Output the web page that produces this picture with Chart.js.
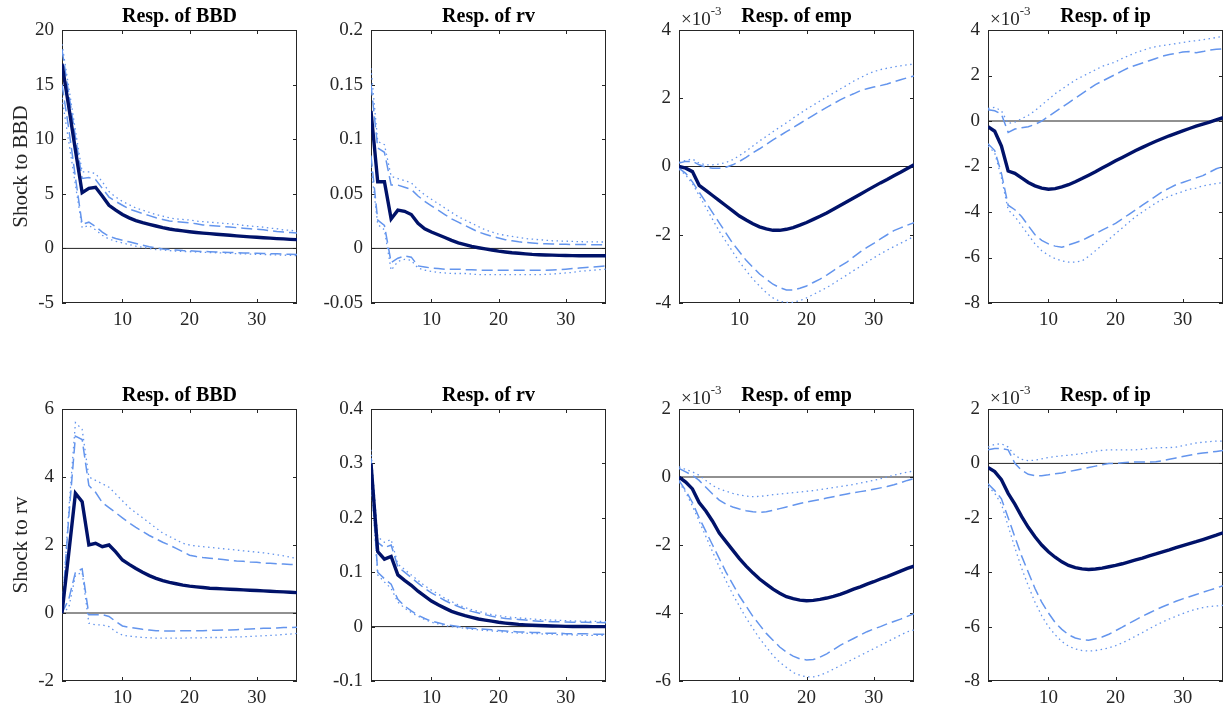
<!DOCTYPE html>
<html><head><meta charset="utf-8">
<script src="https://cdn.jsdelivr.net/npm/chart.js@4"></script>
<style>
html,body{margin:0;padding:0;background:#fff;width:1225px;height:715px;overflow:hidden;position:relative;}
canvas{position:absolute;}
</style></head><body>
<script>
// ---------------- DATA ----------------
const horizon = [1,2,3,4,5,6,7,8,9,10,11,12,13,14,15,16,17,18,19,20,21,22,23,24,25,26,27,28,29,30,31,32,33,34,35,36];
const xTickLabels = [10,20,30];
const zeroLevel = 0;
const rowLabels = ['Shock to BBD','Shock to rv'];
const colTitles = ['Resp. of BBD','Resp. of rv','Resp. of emp','Resp. of ip'];
const expLabel = '-3'; // ×10^-3 scale shown on emp / ip panels

// y tick values per panel
const yTicks_BBD_BBD = [-5,0,5,10,15,20];
const yTicks_BBD_rv  = [-0.05,0,0.05,0.1,0.15,0.2];
const yTicks_BBD_emp = [-4,-2,0,2,4];
const yTicks_BBD_ip  = [-8,-6,-4,-2,0,2,4];
const yTicks_rv_BBD  = [-2,0,2,4,6];
const yTicks_rv_rv   = [-0.1,0,0.1,0.2,0.3,0.4];
const yTicks_rv_emp  = [-6,-4,-2,0,2];
const yTicks_rv_ip   = [-8,-6,-4,-2,0,2];

// Shock to BBD -> Resp. of BBD
const bbd_bbd_irf  = [16.9,13.0,9.0,5.1,5.5,5.6,4.8,3.95,3.5,3.1,2.8,2.55,2.35,2.2,2.05,1.9,1.78,1.68,1.6,1.53,1.46,1.4,1.35,1.3,1.25,1.2,1.15,1.1,1.06,1.02,0.98,0.94,0.9,0.87,0.83,0.8];
const bbd_bbd_hi68 = [18.2,14.2,10.2,6.4,6.5,6.3,5.5,4.7,4.3,3.95,3.6,3.4,3.2,3.0,2.8,2.65,2.5,2.45,2.4,2.35,2.25,2.15,2.1,2.05,2.0,1.95,1.9,1.85,1.8,1.75,1.7,1.62,1.55,1.5,1.45,1.4];
const bbd_bbd_hi90 = [18.7,14.8,10.8,7.0,7.0,6.85,6.1,5.2,4.7,4.3,4.0,3.7,3.5,3.3,3.1,2.95,2.8,2.7,2.65,2.6,2.5,2.45,2.4,2.35,2.3,2.25,2.2,2.1,2.05,2.0,1.95,1.85,1.8,1.7,1.65,1.6];
const bbd_bbd_lo68 = [15.0,11.0,6.5,2.2,2.4,2.0,1.5,1.1,0.9,0.75,0.6,0.45,0.3,0.15,0.05,-0.05,-0.1,-0.15,-0.2,-0.22,-0.25,-0.28,-0.3,-0.32,-0.35,-0.37,-0.39,-0.41,-0.43,-0.45,-0.47,-0.49,-0.5,-0.52,-0.54,-0.55];
const bbd_bbd_lo90 = [13.8,9.8,5.8,1.9,2.1,1.7,1.2,0.85,0.65,0.5,0.35,0.2,0.1,0.0,-0.1,-0.15,-0.2,-0.25,-0.28,-0.3,-0.33,-0.36,-0.38,-0.4,-0.42,-0.45,-0.48,-0.5,-0.52,-0.54,-0.56,-0.58,-0.6,-0.62,-0.64,-0.66];

// Shock to BBD -> Resp. of rv
const bbd_rv_irf  = [0.126,0.061,0.061,0.027,0.035,0.034,0.031,0.023,0.018,0.015,0.0125,0.01,0.0073,0.005,0.0034,0.0018,0.0006,-0.0005,-0.0015,-0.0025,-0.0033,-0.004,-0.0045,-0.005,-0.0055,-0.0058,-0.006,-0.0062,-0.0064,-0.0065,-0.0066,-0.0067,-0.0067,-0.0067,-0.0067,-0.0067];
const bbd_rv_hi68 = [0.15,0.092,0.088,0.058,0.058,0.056,0.054,0.048,0.043,0.039,0.035,0.031,0.027,0.024,0.021,0.018,0.015,0.013,0.011,0.0095,0.008,0.007,0.006,0.0055,0.005,0.0045,0.0042,0.004,0.0038,0.0037,0.0036,0.0035,0.0035,0.0034,0.0034,0.0034];
const bbd_rv_hi90 = [0.165,0.098,0.095,0.066,0.064,0.062,0.06,0.054,0.049,0.045,0.041,0.037,0.033,0.029,0.026,0.023,0.02,0.017,0.015,0.013,0.012,0.011,0.01,0.009,0.0085,0.008,0.0075,0.007,0.0068,0.0066,0.0064,0.0062,0.006,0.006,0.0059,0.0058];
const bbd_rv_lo68 = [0.085,0.026,0.021,-0.013,-0.009,-0.007,-0.008,-0.016,-0.017,-0.018,-0.0185,-0.019,-0.019,-0.019,-0.0195,-0.0195,-0.02,-0.02,-0.02,-0.02,-0.02,-0.02,-0.02,-0.02,-0.02,-0.02,-0.02,-0.0198,-0.0195,-0.019,-0.0185,-0.018,-0.0175,-0.017,-0.0165,-0.016];
const bbd_rv_lo90 = [0.075,0.022,0.017,-0.02,-0.012,-0.01,-0.011,-0.018,-0.02,-0.021,-0.022,-0.0225,-0.023,-0.023,-0.023,-0.0235,-0.024,-0.024,-0.024,-0.024,-0.024,-0.024,-0.024,-0.024,-0.024,-0.024,-0.0238,-0.0235,-0.023,-0.0225,-0.022,-0.021,-0.0205,-0.02,-0.0195,-0.019];

// Shock to BBD -> Resp. of emp (x 10^-3)
const bbd_emp_irf  = [0,-0.05,-0.15,-0.55,-0.7,-0.85,-1.0,-1.15,-1.3,-1.45,-1.57,-1.68,-1.77,-1.83,-1.87,-1.87,-1.84,-1.79,-1.72,-1.64,-1.55,-1.46,-1.36,-1.25,-1.14,-1.03,-0.92,-0.81,-0.7,-0.59,-0.48,-0.38,-0.27,-0.17,-0.06,0.05];
const bbd_emp_hi68 = [0.1,0.15,0.15,0.05,-0.02,-0.05,-0.05,-0.02,0.05,0.15,0.27,0.4,0.52,0.65,0.78,0.9,1.02,1.14,1.26,1.38,1.5,1.62,1.73,1.84,1.95,2.05,2.13,2.22,2.28,2.33,2.37,2.42,2.48,2.54,2.6,2.65];
const bbd_emp_hi90 = [0.12,0.18,0.22,0.1,0.05,0.05,0.07,0.12,0.2,0.32,0.45,0.6,0.75,0.88,1.02,1.15,1.28,1.42,1.55,1.68,1.8,1.92,2.04,2.15,2.27,2.38,2.5,2.6,2.7,2.78,2.84,2.88,2.92,2.95,2.98,3.0];
const bbd_emp_lo68 = [-0.05,-0.2,-0.45,-0.75,-1.05,-1.35,-1.65,-1.95,-2.25,-2.5,-2.75,-2.95,-3.15,-3.3,-3.45,-3.55,-3.62,-3.62,-3.57,-3.5,-3.4,-3.3,-3.18,-3.05,-2.92,-2.8,-2.65,-2.5,-2.37,-2.25,-2.12,-2.0,-1.88,-1.8,-1.72,-1.65];
const bbd_emp_lo90 = [-0.08,-0.25,-0.5,-0.85,-1.2,-1.55,-1.9,-2.2,-2.5,-2.8,-3.05,-3.3,-3.5,-3.7,-3.85,-3.95,-3.98,-3.98,-3.93,-3.85,-3.75,-3.65,-3.55,-3.43,-3.3,-3.18,-3.05,-2.93,-2.8,-2.68,-2.56,-2.45,-2.35,-2.25,-2.15,-2.05];

// Shock to BBD -> Resp. of ip (x 10^-3)
const bbd_ip_irf  = [-0.25,-0.45,-1.1,-2.2,-2.3,-2.5,-2.7,-2.85,-2.95,-3.0,-2.97,-2.9,-2.8,-2.67,-2.53,-2.38,-2.23,-2.07,-1.91,-1.75,-1.6,-1.45,-1.3,-1.16,-1.02,-0.89,-0.77,-0.65,-0.54,-0.43,-0.33,-0.23,-0.14,-0.05,0.05,0.15];
const bbd_ip_hi68 = [0.5,0.45,0.3,-0.5,-0.35,-0.3,-0.25,-0.15,0.0,0.2,0.4,0.6,0.8,1.0,1.2,1.4,1.6,1.75,1.9,2.05,2.2,2.35,2.45,2.55,2.65,2.75,2.85,2.92,2.97,3.03,3.05,3.0,3.05,3.12,3.15,3.17];
const bbd_ip_hi90 = [0.55,0.6,0.45,-0.1,-0.05,0.1,0.25,0.45,0.7,0.95,1.2,1.4,1.6,1.8,1.95,2.1,2.25,2.4,2.5,2.6,2.75,2.88,3.0,3.1,3.2,3.27,3.32,3.36,3.4,3.45,3.5,3.53,3.57,3.62,3.67,3.72];
const bbd_ip_lo68 = [-1.0,-1.3,-2.3,-3.7,-3.9,-4.2,-4.6,-5.0,-5.25,-5.4,-5.5,-5.55,-5.45,-5.35,-5.25,-5.1,-4.95,-4.8,-4.65,-4.5,-4.3,-4.1,-3.9,-3.7,-3.5,-3.3,-3.1,-2.95,-2.8,-2.7,-2.6,-2.5,-2.4,-2.25,-2.1,-2.0];
const bbd_ip_lo90 = [-1.1,-1.4,-2.5,-3.9,-4.2,-4.6,-5.0,-5.4,-5.7,-5.9,-6.05,-6.15,-6.2,-6.2,-6.15,-5.95,-5.7,-5.45,-5.2,-4.95,-4.7,-4.45,-4.2,-4.0,-3.8,-3.6,-3.45,-3.3,-3.2,-3.1,-3.0,-2.95,-2.85,-2.8,-2.75,-2.7];

// Shock to rv -> Resp. of BBD
const rv_bbd_irf  = [0.0,1.75,3.52,3.27,2.0,2.05,1.95,2.0,1.8,1.56,1.43,1.31,1.2,1.1,1.02,0.95,0.9,0.86,0.82,0.79,0.77,0.75,0.73,0.72,0.71,0.7,0.69,0.68,0.67,0.66,0.65,0.64,0.63,0.62,0.61,0.6];
const rv_bbd_hi68 = [0.0,2.8,5.2,5.1,3.75,3.55,3.25,3.1,2.95,2.8,2.65,2.52,2.4,2.28,2.18,2.08,2.0,1.9,1.8,1.7,1.66,1.63,1.61,1.59,1.57,1.55,1.53,1.52,1.5,1.49,1.47,1.46,1.45,1.44,1.43,1.42];
const rv_bbd_hi90 = [0.0,3.0,5.6,5.4,4.0,3.9,3.8,3.7,3.5,3.3,3.1,2.95,2.8,2.65,2.5,2.35,2.25,2.15,2.05,2.0,1.97,1.95,1.93,1.91,1.89,1.87,1.85,1.83,1.81,1.79,1.77,1.74,1.71,1.68,1.64,1.6];
const rv_bbd_lo68 = [0.0,0.4,1.2,1.3,-0.05,-0.05,-0.05,-0.1,-0.25,-0.38,-0.42,-0.45,-0.48,-0.5,-0.52,-0.53,-0.53,-0.53,-0.52,-0.52,-0.52,-0.52,-0.51,-0.51,-0.5,-0.5,-0.49,-0.48,-0.47,-0.46,-0.45,-0.45,-0.44,-0.43,-0.43,-0.42];
const rv_bbd_lo90 = [0.0,0.15,1.1,1.2,-0.3,-0.35,-0.35,-0.4,-0.55,-0.65,-0.68,-0.7,-0.72,-0.73,-0.74,-0.74,-0.74,-0.74,-0.74,-0.73,-0.73,-0.73,-0.72,-0.72,-0.72,-0.71,-0.7,-0.7,-0.69,-0.68,-0.67,-0.66,-0.65,-0.63,-0.62,-0.6];

// Shock to rv -> Resp. of rv
const rv_rv_irf  = [0.3,0.138,0.124,0.129,0.095,0.085,0.076,0.065,0.056,0.047,0.04,0.034,0.028,0.024,0.02,0.017,0.014,0.012,0.01,0.008,0.0065,0.0052,0.004,0.0032,0.0025,0.002,0.0015,0.0011,0.0008,0.0005,0.0003,0.0002,0.0001,0.0,0.0,-0.0001];
const rv_rv_hi68 = [0.31,0.155,0.145,0.15,0.11,0.1,0.09,0.08,0.07,0.062,0.055,0.048,0.042,0.037,0.032,0.028,0.025,0.022,0.019,0.017,0.015,0.014,0.013,0.012,0.011,0.01,0.0095,0.009,0.0088,0.0085,0.0082,0.008,0.0078,0.0076,0.0074,0.0072];
const rv_rv_hi90 = [0.325,0.165,0.155,0.16,0.115,0.105,0.095,0.085,0.075,0.067,0.06,0.052,0.046,0.04,0.035,0.031,0.028,0.025,0.022,0.02,0.018,0.017,0.016,0.015,0.014,0.013,0.0125,0.012,0.0115,0.011,0.0105,0.01,0.0098,0.0096,0.0094,0.0092];
const rv_rv_lo68 = [0.28,0.1,0.088,0.078,0.05,0.038,0.029,0.021,0.015,0.01,0.007,0.004,0.002,0.0,-0.002,-0.003,-0.004,-0.005,-0.006,-0.007,-0.008,-0.009,-0.01,-0.01,-0.011,-0.011,-0.012,-0.012,-0.012,-0.013,-0.013,-0.013,-0.013,-0.014,-0.014,-0.014];
const rv_rv_lo90 = [0.27,0.095,0.082,0.07,0.045,0.034,0.026,0.019,0.013,0.008,0.005,0.002,0.0,-0.002,-0.003,-0.005,-0.006,-0.007,-0.008,-0.009,-0.01,-0.011,-0.012,-0.012,-0.013,-0.013,-0.014,-0.014,-0.015,-0.015,-0.015,-0.016,-0.016,-0.016,-0.016,-0.016];

// Shock to rv -> Resp. of emp (x 10^-3)
const rv_emp_irf  = [0.0,-0.15,-0.35,-0.75,-1.0,-1.3,-1.65,-1.9,-2.15,-2.4,-2.62,-2.82,-3.0,-3.15,-3.3,-3.42,-3.52,-3.58,-3.62,-3.64,-3.63,-3.6,-3.56,-3.51,-3.45,-3.38,-3.3,-3.23,-3.15,-3.08,-3.0,-2.93,-2.85,-2.77,-2.69,-2.62];
const rv_emp_hi68 = [0.25,0.15,0.05,-0.1,-0.3,-0.5,-0.68,-0.8,-0.88,-0.94,-0.99,-1.02,-1.04,-1.02,-0.98,-0.93,-0.88,-0.83,-0.78,-0.74,-0.7,-0.66,-0.62,-0.58,-0.54,-0.5,-0.46,-0.43,-0.4,-0.36,-0.32,-0.28,-0.23,-0.17,-0.1,-0.05];
const rv_emp_hi90 = [0.3,0.22,0.15,0.05,-0.1,-0.25,-0.35,-0.42,-0.48,-0.53,-0.56,-0.58,-0.57,-0.55,-0.52,-0.5,-0.48,-0.46,-0.44,-0.42,-0.4,-0.37,-0.34,-0.31,-0.28,-0.25,-0.22,-0.18,-0.14,-0.1,-0.05,0.0,0.05,0.1,0.14,0.18];
const rv_emp_lo68 = [-0.1,-0.4,-0.75,-1.2,-1.6,-2.0,-2.4,-2.8,-3.15,-3.5,-3.8,-4.1,-4.35,-4.6,-4.8,-5.0,-5.15,-5.27,-5.35,-5.38,-5.37,-5.3,-5.2,-5.08,-4.95,-4.85,-4.75,-4.65,-4.55,-4.47,-4.4,-4.32,-4.25,-4.18,-4.1,-4.02];
const rv_emp_lo90 = [-0.15,-0.45,-0.85,-1.3,-1.75,-2.2,-2.65,-3.05,-3.45,-3.8,-4.15,-4.45,-4.75,-5.0,-5.25,-5.45,-5.6,-5.75,-5.83,-5.88,-5.88,-5.83,-5.75,-5.65,-5.55,-5.45,-5.35,-5.25,-5.15,-5.05,-4.95,-4.85,-4.75,-4.65,-4.55,-4.5];

// Shock to rv -> Resp. of ip (x 10^-3)
const rv_ip_irf  = [-0.15,-0.3,-0.6,-1.1,-1.5,-1.95,-2.35,-2.7,-3.0,-3.25,-3.45,-3.62,-3.75,-3.83,-3.88,-3.9,-3.88,-3.85,-3.8,-3.75,-3.69,-3.62,-3.55,-3.48,-3.4,-3.33,-3.25,-3.18,-3.1,-3.02,-2.95,-2.88,-2.8,-2.72,-2.64,-2.55];
const rv_ip_hi68 = [0.5,0.55,0.55,0.5,0.0,-0.25,-0.4,-0.45,-0.45,-0.42,-0.38,-0.35,-0.3,-0.25,-0.2,-0.15,-0.1,-0.05,0.0,0.0,0.02,0.04,0.05,0.05,0.05,0.06,0.1,0.15,0.2,0.25,0.3,0.35,0.38,0.41,0.44,0.47];
const rv_ip_hi90 = [0.6,0.7,0.72,0.6,0.3,0.15,0.1,0.12,0.17,0.22,0.25,0.28,0.3,0.33,0.36,0.4,0.45,0.48,0.5,0.5,0.5,0.5,0.5,0.52,0.55,0.57,0.58,0.58,0.6,0.65,0.7,0.75,0.78,0.8,0.82,0.82];
const rv_ip_lo68 = [-0.75,-1.0,-1.3,-2.0,-2.7,-3.4,-4.0,-4.6,-5.1,-5.5,-5.85,-6.1,-6.3,-6.42,-6.48,-6.5,-6.45,-6.38,-6.28,-6.15,-6.02,-5.88,-5.75,-5.62,-5.5,-5.38,-5.27,-5.17,-5.07,-4.98,-4.9,-4.82,-4.74,-4.66,-4.58,-4.5];
const rv_ip_lo90 = [-0.85,-1.1,-1.5,-2.3,-3.1,-3.85,-4.5,-5.1,-5.6,-6.0,-6.3,-6.55,-6.72,-6.82,-6.88,-6.9,-6.88,-6.84,-6.78,-6.7,-6.6,-6.48,-6.35,-6.22,-6.08,-5.95,-5.83,-5.72,-5.62,-5.52,-5.43,-5.36,-5.3,-5.26,-5.24,-5.22];

// ---------------- LAYOUT / STYLE ----------------
const COL_LEFT = [62, 371, 679, 988];
const ROW_TOP = [30, 409];
const ROW_H = [273, 272];
const PLOT_W = 235;
const AXIS_W = 62, TOP_PAD = 30, XAXIS_H = 32;
const C_IRF = '#001269', C_BAND = '#6495ED', C_TEXT = '#262626';
const FONT = '"Liberation Serif", "Times New Roman", serif';

const panels = [
  {r:0,c:0,yt:yTicks_BBD_BBD,s:[bbd_bbd_irf,bbd_bbd_hi68,bbd_bbd_lo68,bbd_bbd_hi90,bbd_bbd_lo90],exp:false},
  {r:0,c:1,yt:yTicks_BBD_rv ,s:[bbd_rv_irf,bbd_rv_hi68,bbd_rv_lo68,bbd_rv_hi90,bbd_rv_lo90],exp:false},
  {r:0,c:2,yt:yTicks_BBD_emp,s:[bbd_emp_irf,bbd_emp_hi68,bbd_emp_lo68,bbd_emp_hi90,bbd_emp_lo90],exp:true},
  {r:0,c:3,yt:yTicks_BBD_ip ,s:[bbd_ip_irf,bbd_ip_hi68,bbd_ip_lo68,bbd_ip_hi90,bbd_ip_lo90],exp:true},
  {r:1,c:0,yt:yTicks_rv_BBD ,s:[rv_bbd_irf,rv_bbd_hi68,rv_bbd_lo68,rv_bbd_hi90,rv_bbd_lo90],exp:false},
  {r:1,c:1,yt:yTicks_rv_rv  ,s:[rv_rv_irf,rv_rv_hi68,rv_rv_lo68,rv_rv_hi90,rv_rv_lo90],exp:false},
  {r:1,c:2,yt:yTicks_rv_emp ,s:[rv_emp_irf,rv_emp_hi68,rv_emp_lo68,rv_emp_hi90,rv_emp_lo90],exp:true},
  {r:1,c:3,yt:yTicks_rv_ip  ,s:[rv_ip_irf,rv_ip_hi68,rv_ip_lo68,rv_ip_hi90,rv_ip_lo90],exp:true}
];

const pts = arr => horizon.map((h,i)=>({x:h, y:arr[i]}));

const framePlugin = {
  id:'frame',
  beforeDatasetsDraw(chart){
    const {ctx, chartArea:a, scales:{x,y}} = chart;
    ctx.save();
    ctx.strokeStyle = C_TEXT; ctx.lineWidth = 1;
    ctx.strokeRect(a.left+0.5, a.top+0.5, a.right-a.left-1, a.bottom-a.top-1);
    const L = 4;
    ctx.beginPath();
    y.ticks.forEach(t=>{
      const py = Math.round(y.getPixelForValue(t.value))+0.5;
      ctx.moveTo(a.left,py); ctx.lineTo(a.left+L,py);
      ctx.moveTo(a.right,py); ctx.lineTo(a.right-L,py);
    });
    x.ticks.forEach(t=>{
      const px = Math.round(x.getPixelForValue(t.value))+0.5;
      ctx.moveTo(px,a.bottom); ctx.lineTo(px,a.bottom-L);
      ctx.moveTo(px,a.top); ctx.lineTo(px,a.top+L);
    });
    ctx.stroke();
    ctx.restore();
  },
  afterDraw(chart, args, opts){
    const {ctx, chartArea:a} = chart;
    ctx.save();
    ctx.fillStyle = '#000';
    ctx.font = 'bold 20px ' + FONT;
    ctx.textAlign = 'center'; ctx.textBaseline = 'alphabetic';
    ctx.fillText(opts.title, (a.left+a.right)/2, a.top-8);
    if (opts.exp) {
      ctx.fillStyle = C_TEXT;
      ctx.textAlign = 'left';
      ctx.font = '19px ' + FONT;
      const base = '\u00d710';
      ctx.fillText(base, a.left+2, a.top-5);
      const w = ctx.measureText(base).width;
      ctx.font = '13px ' + FONT;
      ctx.fillText(opts.exp, a.left+2+w, a.top-15);
    }
    ctx.restore();
  }
};

panels.forEach(p=>{
  const cv = document.createElement('canvas');
  const W = AXIS_W + PLOT_W + 2;
  const H = TOP_PAD + ROW_H[p.r] + XAXIS_H;
  cv.width = W; cv.height = H;
  cv.style.width = W+'px'; cv.style.height = H+'px';
  cv.style.left = (COL_LEFT[p.c]-AXIS_W)+'px';
  cv.style.top = (ROW_TOP[p.r]-TOP_PAD)+'px';
  document.body.appendChild(cv);

  const [irf,hi68,lo68,hi90,lo90] = p.s;
  const band = (d,dash,w)=>({data:pts(d), borderColor:C_BAND, borderWidth:w, borderDash:dash, pointRadius:0, tension:0, fill:false});
  new Chart(cv, {
    type:'line',
    data:{datasets:[
      {data:pts(irf), borderColor:C_IRF, borderWidth:3.4, pointRadius:0, tension:0, fill:false},
      band(hi68,[11,5],1.5), band(lo68,[11,5],1.5),
      band(hi90,[1.5,3.5],1.3), band(lo90,[1.5,3.5],1.3),
      {data:[{x:horizon[0],y:zeroLevel},{x:horizon[horizon.length-1],y:zeroLevel}], borderColor:'#222', borderWidth:1, pointRadius:0, fill:false}
    ]},
    options:{
      responsive:false, animation:false, devicePixelRatio:1,
      layout:{padding:{top:TOP_PAD,left:0,right:2,bottom:0}},
      plugins:{legend:{display:false}, tooltip:{enabled:false}, title:{display:false},
        frame:{title:colTitles[p.c], exp: p.exp ? expLabel : null}},
      scales:{
        x:{type:'linear', min:horizon[0], max:horizon[horizon.length-1],
          afterBuildTicks:s=>{ s.ticks = xTickLabels.map(v=>({value:v})); },
          afterFit:s=>{ s.height = XAXIS_H; },
          grid:{display:false, drawTicks:false}, border:{display:false},
          ticks:{padding:6, color:C_TEXT, font:{family:FONT, size:19}, maxRotation:0, autoSkip:false, callback:v=>String(v)}},
        y:{type:'linear', min:p.yt[0], max:p.yt[p.yt.length-1],
          afterBuildTicks:s=>{ s.ticks = p.yt.map(v=>({value:v})); },
          afterFit:s=>{ s.width = AXIS_W; },
          grid:{display:false, drawTicks:false}, border:{display:false},
          ticks:{padding:8, color:C_TEXT, font:{family:FONT, size:19}, autoSkip:false, callback:v=>String(v)},
          title:{display:p.c===0, text:rowLabels[p.r], color:C_TEXT, font:{family:FONT, size:21}, padding:{top:9,bottom:0}}}
      }
    },
    plugins:[framePlugin]
  });
});
</script>
</body></html>
